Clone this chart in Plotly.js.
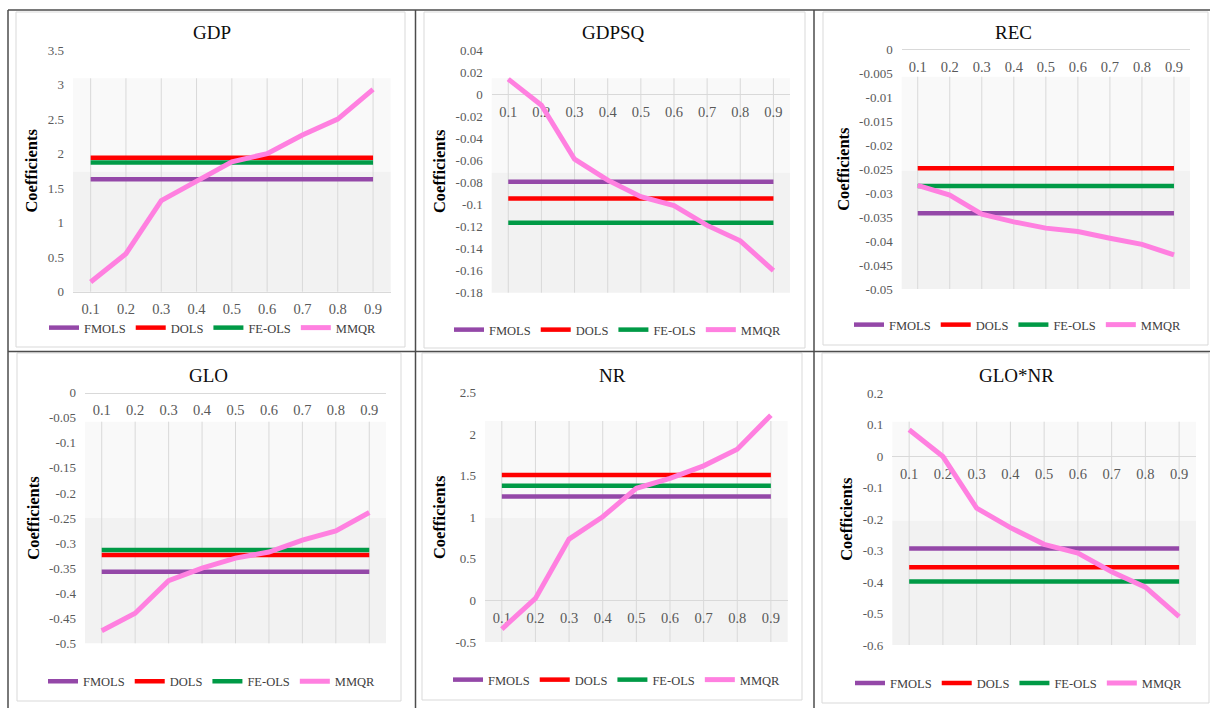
<!DOCTYPE html>
<html><head><meta charset="utf-8">
<script src="https://cdn.plot.ly/plotly-3.0.1.min.js"></script>
<style>html,body{margin:0;padding:0;background:#fff}#chart{width:1210px;height:708px}</style>
</head><body><div id="chart"></div>
<script>
// ---------------- DATA ----------------
const quantiles = [0.1, 0.2, 0.3, 0.4, 0.5, 0.6, 0.7, 0.8, 0.9];
const quantileLabels = ['0.1', '0.2', '0.3', '0.4', '0.5', '0.6', '0.7', '0.8', '0.9'];
const panelNames = ['GDP', 'GDPSQ', 'REC', 'GLO', 'NR', 'GLO*NR'];
const seriesNames = ['FMOLS', 'DOLS', 'FE-OLS', 'MMQR'];
const yAxisTitle = 'Coefficients';

// constant (quantile-invariant) estimates, one per panel
const fmolsCoef = [1.63, -0.0795, -0.0342, -0.357, 1.25, -0.2935];
const dolsCoef  = [1.94, -0.0946, -0.0248, -0.324, 1.51, -0.353];
const feolsCoef = [1.87, -0.1167, -0.0285, -0.314, 1.38, -0.398];

// MMQR estimates by quantile
const mmqrGDP   = [0.14, 0.55, 1.32, 1.61, 1.88, 2.00, 2.27, 2.50, 2.93];
const mmqrGDPSQ = [0.0136, -0.010, -0.059, -0.078, -0.093, -0.101, -0.119, -0.133, -0.160];
const mmqrREC   = [-0.0284, -0.0304, -0.0344, -0.0360, -0.0373, -0.0380, -0.0394, -0.0407, -0.0429];
const mmqrGLO   = [-0.475, -0.440, -0.375, -0.350, -0.330, -0.318, -0.294, -0.276, -0.239];
const mmqrNR    = [-0.345, 0.024, 0.738, 1.007, 1.35, 1.47, 1.62, 1.82, 2.23];
const mmqrGLONR = [0.084, -0.001, -0.165, -0.227, -0.280, -0.308, -0.367, -0.416, -0.510];

// y tick labels per panel
const yTicksGDP   = ['0', '0.5', '1', '1.5', '2', '2.5', '3', '3.5'];
const yTicksGDPSQ = ['-0.18', '-0.16', '-0.14', '-0.12', '-0.1', '-0.08', '-0.06', '-0.04', '-0.02', '0', '0.02', '0.04'];
const yTicksREC   = ['-0.05', '-0.045', '-0.04', '-0.035', '-0.03', '-0.025', '-0.02', '-0.015', '-0.01', '-0.005', '0'];
const yTicksGLO   = ['-0.5', '-0.45', '-0.4', '-0.35', '-0.3', '-0.25', '-0.2', '-0.15', '-0.1', '-0.05', '0'];
const yTicksNR    = ['-0.5', '0', '0.5', '1', '1.5', '2', '2.5'];
const yTicksGLONR = ['-0.6', '-0.5', '-0.4', '-0.3', '-0.2', '-0.1', '0', '0.1', '0.2'];

const mmqrAll = [mmqrGDP, mmqrGDPSQ, mmqrREC, mmqrGLO, mmqrNR, mmqrGLONR];
const yTickAll = [yTicksGDP, yTicksGDPSQ, yTicksREC, yTicksGLO, yTicksNR, yTicksGLONR];

// ---------------- STYLE / GEOMETRY (pixels) ----------------
const W = 1210, H = 708;
const colors = ['#9448a8', '#ff0000', '#009a46', '#ff80e0'];
const serif = 'Liberation Serif';
const geo = [
  {x0: 73,    x1: 390.7, yTop: 50,    yBot: 291.7, gTop: 78.3,  split: 171.7, tX: 211.7,  tY: 33,  lX: 49,  lY: 328},
  {x0: 491.7, x1: 790,   yTop: 50,    yBot: 292.7, gTop: 78.3,  split: 172.7, tX: 613.3,  tY: 33,  lX: 454, lY: 330},
  {x0: 901.7, x1: 1190,  yTop: 49.3,  yBot: 289,   gTop: 76.7,  split: 170.7, tX: 1013.3, tY: 33,  lX: 854, lY: 325},
  {x0: 85,    x1: 386,   yTop: 392.7, yBot: 643.3, gTop: 421.7, split: 518,   tX: 208.3,  tY: 375, lX: 48,  lY: 681.7},
  {x0: 485,   x1: 787.7, yTop: 392.7, yBot: 642,   gTop: 421,   split: 518,   tX: 612.3,  tY: 375, lX: 453, lY: 680},
  {x0: 892.3, x1: 1196,  yTop: 393.3, yBot: 645,   gTop: 421.7, split: 520.7, tX: 1016.7, tY: 375, lX: 855, lY: 683.3}
];
const px = v => v / W;
const py = v => 1 - v / H;

const traces = [];
const layout = {
  width: W, height: H,
  margin: {l: 0, r: 0, t: 0, b: 0},
  paper_bgcolor: '#ffffff', plot_bgcolor: 'rgba(0,0,0,0)',
  font: {family: serif, color: '#595959'},
  showlegend: true,
  shapes: [], annotations: []
};

panelNames.forEach((name, i) => {
  const g = geo[i];
  const n = i + 1;
  const xa = 'x' + (n === 1 ? '' : n), ya = 'y' + (n === 1 ? '' : n);
  const xKey = 'xaxis' + (n === 1 ? '' : n), yKey = 'yaxis' + (n === 1 ? '' : n);
  const legKey = 'legend' + (n === 1 ? '' : n);
  const tickVals = yTickAll[i].map(Number);
  const yMin = Math.min(...tickVals), yMax = Math.max(...tickVals);
  const yDom = [py(g.yBot), py(g.yTop)];
  const zeroPos = yDom[0] + (0 - yMin) / (yMax - yMin) * (yDom[1] - yDom[0]);
  const consts = [fmolsCoef[i], dolsCoef[i], feolsCoef[i]];

  consts.forEach((c, k) => {
    traces.push({
      x: quantiles, y: quantiles.map(() => c), name: seriesNames[k],
      type: 'scatter', mode: 'lines', xaxis: xa, yaxis: ya, legend: legKey,
      line: {color: colors[k], width: 4.5}, hoverinfo: 'x+y+name'
    });
  });
  traces.push({
    x: quantiles, y: mmqrAll[i], name: seriesNames[3],
    type: 'scatter', mode: 'lines', xaxis: xa, yaxis: ya, legend: legKey,
    line: {color: colors[3], width: 5}, hoverinfo: 'x+y+name'
  });

  layout[xKey] = {
    domain: [px(g.x0), px(g.x1)], range: [0.05, 0.95],
    anchor: 'free', position: zeroPos,
    tickvals: quantiles, ticktext: quantileLabels,
    showgrid: false, zeroline: false, ticks: '',
    showline: true, linecolor: '#d9d9d9', linewidth: 1,
    tickfont: {family: serif, size: 14.5, color: '#595959'},
    ticklabelstandoff: 4, layer: 'below traces', fixedrange: true
  };
  layout[yKey] = {
    domain: yDom, range: [yMin, yMax], anchor: xa,
    tickvals: tickVals, ticktext: yTickAll[i],
    showgrid: false, zeroline: false, showline: false, ticks: '',
    tickfont: {family: serif, size: 13, color: '#595959'},
    ticklabelstandoff: 8,
    title: {text: '<b>' + yAxisTitle + '</b>', font: {family: serif, size: 16.5, color: '#000000'}, standoff: 5},
    layer: 'below traces', fixedrange: true
  };
  layout[legKey] = {
    orientation: 'h', x: px(g.lX - 5), xanchor: 'left', y: py(g.lY), yanchor: 'middle',
    bgcolor: 'rgba(0,0,0,0)', borderwidth: 0, itemwidth: 30, traceorder: 'normal',
    font: {family: serif, size: 12.5, color: '#404040'}, itemclick: false, itemdoubleclick: false
  };

  // plot-area fill (two tones) in the subplot's own domain
  const fracTop = (g.yBot - g.gTop) / (g.yBot - g.yTop);
  const fracSplit = (g.yBot - g.split) / (g.yBot - g.yTop);
  layout.shapes.push({type: 'rect', xref: xa + ' domain', yref: ya + ' domain', x0: 0, x1: 1, y0: fracSplit, y1: fracTop, fillcolor: '#f9f9f9', line: {width: 0}, layer: 'below'});
  layout.shapes.push({type: 'rect', xref: xa + ' domain', yref: ya + ' domain', x0: 0, x1: 1, y0: 0, y1: fracSplit, fillcolor: '#f2f2f2', line: {width: 0}, layer: 'below'});
  // vertical category gridlines
  quantiles.forEach(q => {
    layout.shapes.push({type: 'line', xref: xa, yref: ya + ' domain', x0: q, x1: q, y0: 0, y1: fracTop, line: {color: '#d9d9d9', width: 1}, layer: 'below'});
  });
  // panel title
  layout.annotations.push({text: name, xref: 'paper', yref: 'paper', x: px(g.tX), y: py(g.tY), xanchor: 'center', yanchor: 'middle', showarrow: false, font: {family: serif, size: 19, color: '#0d0d0d'}});
});

// chart-area boxes (light) and table grid (dark)
const boxes = [[16, 405, 12, 347], [424, 805, 12, 348], [823, 1208, 12, 345], [17, 401, 353, 701], [422, 802, 353, 700], [822, 1209, 353, 703]];
boxes.forEach(b => layout.shapes.push({type: 'rect', xref: 'paper', yref: 'paper', x0: px(b[0]), x1: px(b[1]), y0: py(b[3]), y1: py(b[2]), line: {color: '#d9d9d9', width: 1}, fillcolor: 'rgba(0,0,0,0)', layer: 'below'}));
const tableLines = [[8, 1210, 10, 10], [8, 8, 10, 708], [415.5, 415.5, 10, 708], [814, 814, 10, 708], [8, 1210, 351.5, 351.5]];
tableLines.forEach(l => layout.shapes.push({type: 'line', xref: 'paper', yref: 'paper', x0: px(l[0]), x1: px(l[1]), y0: py(l[2]), y1: py(l[3]), line: {color: '#4d4d4d', width: 1.5}, layer: 'above'}));

Plotly.newPlot('chart', traces, layout, {displayModeBar: false, staticPlot: false});
</script>
</body></html>
